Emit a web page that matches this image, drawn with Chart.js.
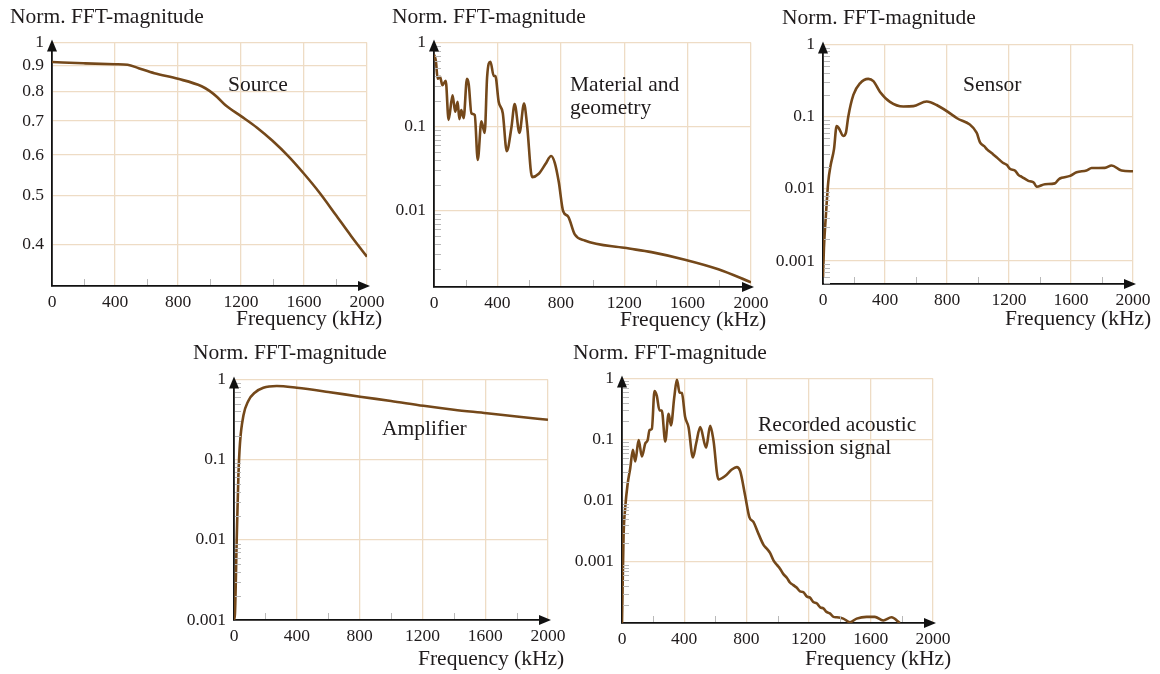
<!DOCTYPE html>
<html>
<head>
<meta charset="utf-8">
<script src="https://cdn.jsdelivr.net/npm/chart.js@4.4.1/dist/chart.umd.min.js"></script>
<style>
  html, body { margin: 0; padding: 0; background: #fff; }
  #page { position: relative; width: 1160px; height: 674px; overflow: hidden;
          font-family: 'Liberation Serif', 'Times New Roman', serif; color: #1f1b1c; }
  #page canvas { position: absolute; }
  .lbl { position: absolute; font-size: 21.5px; line-height: 1; white-space: nowrap; }
</style>
</head>
<body>
<div id="page"></div>
<script>
// ---- shared frequency axis (kHz) ----
const freqTicks = [0, 400, 800, 1200, 1600, 2000];
const freqMinorTicks = [200, 600, 1000, 1400, 1800];

// ---- Source ----
const sourceFreq = [0, 200, 400, 480, 550, 650, 800, 950, 1000, 1050, 1100, 1200, 1300, 1400, 1500, 1600, 1700, 1800, 1900, 2000];
const sourceMag  = [0.915, 0.91, 0.906, 0.904, 0.89, 0.87, 0.848, 0.82, 0.803, 0.78, 0.753, 0.716, 0.68, 0.64, 0.597, 0.551, 0.505, 0.458, 0.415, 0.378];
const sourceTicks = [1, 0.9, 0.8, 0.7, 0.6, 0.5, 0.4];

// ---- Material and geometry ----
const materialFreq = [0, 12, 23, 38, 53, 74, 92, 117, 134, 149, 160, 172, 187, 208, 219, 236, 257, 276, 299, 320, 335, 356, 377, 387, 408, 434, 459, 488, 509, 539, 568, 587, 619, 661, 703, 739, 762, 787, 815, 846, 888, 951, 1200, 1372, 1583, 1794, 2000];
const materialMag  = [0.72, 0.6, 0.37, 0.39, 0.31, 0.35, 0.12, 0.235, 0.15, 0.197, 0.122, 0.157, 0.126, 0.37, 0.32, 0.144, 0.137, 0.04, 0.115, 0.084, 0.386, 0.59, 0.40, 0.40, 0.197, 0.144, 0.051, 0.096, 0.185, 0.084, 0.188, 0.105, 0.025, 0.0274, 0.0357, 0.0446, 0.037, 0.022, 0.0098, 0.0085, 0.0052, 0.0044, 0.0036, 0.0032, 0.0026, 0.002, 0.0014];
const materialTicks = [1, 0.1, 0.01];

// ---- Sensor ----
const sensorFreq = [0, 6, 19, 34, 49, 71, 88, 101, 131, 148, 163, 196, 239, 292, 325, 368, 432, 518, 583, 669, 733, 862, 991, 1013, 1040, 1060, 1090, 1120, 1160, 1185, 1206, 1240, 1262, 1282, 1325, 1345, 1360, 1378, 1432, 1496, 1520, 1540, 1594, 1636, 1700, 1733, 1819, 1862, 1926, 2000];
const sensorMag  = [0.0006, 0.0015, 0.0044, 0.0125, 0.021, 0.0355, 0.074, 0.07, 0.054, 0.06, 0.10, 0.2, 0.29, 0.334, 0.31, 0.22, 0.16, 0.138, 0.14, 0.162, 0.145, 0.096, 0.06, 0.044, 0.039, 0.035, 0.031, 0.0274, 0.023, 0.0215, 0.019, 0.0178, 0.0155, 0.0147, 0.0129, 0.0126, 0.0122, 0.0107, 0.0116, 0.0119, 0.0135, 0.0142, 0.0151, 0.017, 0.018, 0.0194, 0.0195, 0.0211, 0.0179, 0.0175];
const sensorTicks = [1, 0.1, 0.01, 0.001];

// ---- Amplifier ----
const amplifierFreq = [0, 6, 17, 28, 38, 60, 91, 134, 187, 272, 400, 600, 803, 1000, 1207, 1400, 1611, 1800, 2000];
const amplifierMag  = [0.001, 0.0012, 0.0095, 0.063, 0.16, 0.355, 0.54, 0.69, 0.79, 0.83, 0.79, 0.70, 0.61, 0.54, 0.47, 0.42, 0.38, 0.345, 0.315];
const amplifierTicks = [1, 0.1, 0.01, 0.001];

// ---- Recorded acoustic emission signal ----
const recordedFreq = [0, 10, 21, 36, 53, 70, 85, 107, 128, 150, 165, 177, 192, 209, 224, 241, 256, 278, 300, 315, 336, 353, 370, 385, 406, 428, 456, 477, 503, 541, 567, 588, 620, 663, 706, 738, 760, 792, 819, 845, 877, 910, 935, 952, 975, 995, 1015, 1038, 1060, 1080, 1100, 1123, 1145, 1166, 1190, 1209, 1230, 1252, 1275, 1295, 1315, 1337, 1360, 1380, 1423, 1466, 1509, 1573, 1626, 1680, 1733, 1787];
const recordedMag  = [0.0001, 0.0026, 0.0079, 0.0186, 0.034, 0.068, 0.044, 0.098, 0.053, 0.087, 0.098, 0.143, 0.15, 0.625, 0.52, 0.30, 0.30, 0.093, 0.264, 0.171, 0.49, 0.96, 0.59, 0.58, 0.234, 0.16, 0.051, 0.087, 0.16, 0.074, 0.168, 0.098, 0.0224, 0.0254, 0.0324, 0.0355, 0.0305, 0.0121, 0.0054, 0.0045, 0.0029, 0.0019, 0.0016, 0.0014, 0.00105, 0.0009, 0.00078, 0.00063, 0.00055, 0.00046, 0.00042, 0.00038, 0.00033, 0.00032, 0.00027, 0.00026, 0.00022, 0.00021, 0.00018, 0.000174, 0.000152, 0.000144, 0.000126, 0.000124, 0.000118, 0.000103, 0.000118, 0.000126, 0.000126, 0.00011, 0.000124, 0.0001];
const recordedTicks = [1, 0.1, 0.01, 0.001];

// ---- styling ----
const LINE_COLOR = '#74481a';
const GRID_COLOR = '#eedcc5';
const MINOR_COLOR = '#b9b9b9';
const TEXT_COLOR = '#1f1b1c';
const SERIF = "'Liberation Serif', 'Times New Roman', serif";

// panel layout: plot rectangle on the page plus y range and text placement
const panels = [
  { freq: sourceFreq, mag: sourceMag, yTicks: sourceTicks, yMin: 0.331, yMax: 1, minorY: false,
    rect: { l: 52, t: 38, r: 367, b: 286 },
    title: { x: 10, base: 24 }, xTitle: { x: 236, base: 326 },
    notes: [{ text: 'Source', x: 228, base: 92 }] },
  { freq: materialFreq, mag: materialMag, yTicks: materialTicks, yMin: 0.00123, yMax: 1, minorY: true,
    rect: { l: 434, t: 38, r: 751, b: 287 },
    title: { x: 392, base: 24 }, xTitle: { x: 620, base: 327 },
    notes: [{ text: 'Material and', x: 570, base: 92 }, { text: 'geometry', x: 570, base: 115 }] },
  { freq: sensorFreq, mag: sensorMag, yTicks: sensorTicks, yMin: 0.00048, yMax: 1, minorY: true,
    rect: { l: 823, t: 40, r: 1133, b: 284 },
    title: { x: 782, base: 25 }, xTitle: { x: 1005, base: 326 },
    notes: [{ text: 'Sensor', x: 963, base: 92 }] },
  { freq: amplifierFreq, mag: amplifierMag, yTicks: amplifierTicks, yMin: 0.001, yMax: 1, minorY: true,
    rect: { l: 234, t: 375, r: 548, b: 620 },
    title: { x: 193, base: 360 }, xTitle: { x: 418, base: 666 },
    notes: [{ text: 'Amplifier', x: 382, base: 436 }] },
  { freq: recordedFreq, mag: recordedMag, yTicks: recordedTicks, yMin: 0.0001, yMax: 1, minorY: true,
    rect: { l: 622, t: 374, r: 933, b: 623 },
    title: { x: 573, base: 360 }, xTitle: { x: 805, base: 666 },
    notes: [{ text: 'Recorded acoustic', x: 758, base: 432 }, { text: 'emission signal', x: 758, base: 455 }] }
];

const page = document.getElementById('page');
const Y_AXIS_W = 60, X_AXIS_H = 34, PAD_T = 14, PAD_R = 26;
const FONT_PX = 21.5, BASELINE_OFFSET = 0.8375 * FONT_PX;

function addLabel(text, x, base) {
  const d = document.createElement('div');
  d.className = 'lbl';
  d.textContent = text;
  d.style.left = x + 'px';
  d.style.top = (base - BASELINE_OFFSET) + 'px';
  page.appendChild(d);
}

// axis arrows plus the small minor tick marks drawn inside the plot
const axisDecor = {
  id: 'axisDecor',
  afterDraw(chart, args, opts) {
    const { ctx, chartArea: a, scales } = chart;
    const xs = scales.x, ys = scales.y;
    ctx.save();
    ctx.strokeStyle = MINOR_COLOR;
    ctx.lineWidth = 1;
    freqMinorTicks.forEach(v => {
      const px = Math.round(xs.getPixelForValue(v)) + 0.5;
      ctx.beginPath(); ctx.moveTo(px, a.bottom - 1); ctx.lineTo(px, a.bottom - 7); ctx.stroke();
    });
    if (opts.minorY) {
      const lo = Math.floor(Math.log10(ys.min)), hi = Math.ceil(Math.log10(ys.max));
      for (let n = lo; n < hi; n++) {
        for (let k = 2; k <= 9; k++) {
          const v = k * Math.pow(10, n);
          if (v <= ys.min || v >= ys.max) continue;
          const py = Math.round(ys.getPixelForValue(v)) + 0.5;
          ctx.beginPath(); ctx.moveTo(a.left + 1, py); ctx.lineTo(a.left + 7, py); ctx.stroke();
        }
      }
    }
    ctx.fillStyle = '#111';
    ctx.beginPath();
    ctx.moveTo(a.left, a.top - 3);
    ctx.lineTo(a.left - 5, a.top + 9);
    ctx.lineTo(a.left + 5, a.top + 9);
    ctx.closePath(); ctx.fill();
    ctx.beginPath();
    ctx.moveTo(a.right + 3, a.bottom);
    ctx.lineTo(a.right - 9, a.bottom - 5);
    ctx.lineTo(a.right - 9, a.bottom + 5);
    ctx.closePath(); ctx.fill();
    ctx.restore();
  }
};

panels.forEach(p => {
  const w = (p.rect.r - p.rect.l) + Y_AXIS_W + PAD_R;
  const h = (p.rect.b - p.rect.t) + PAD_T + X_AXIS_H;
  const cv = document.createElement('canvas');
  cv.width = w; cv.height = h;
  cv.style.width = w + 'px'; cv.style.height = h + 'px';
  cv.style.left = (p.rect.l - Y_AXIS_W) + 'px';
  cv.style.top = (p.rect.t - PAD_T) + 'px';
  page.appendChild(cv);

  new Chart(cv, {
    type: 'line',
    data: {
      datasets: [{
        data: p.freq.map((f, i) => ({ x: f, y: p.mag[i] })),
        borderColor: LINE_COLOR,
        borderWidth: 2.6,
        pointRadius: 0,
        cubicInterpolationMode: 'monotone',
        fill: false
      }]
    },
    options: {
      responsive: false,
      animation: false,
      events: [],
      layout: { padding: { left: 0, top: PAD_T, right: PAD_R, bottom: 0 } },
      plugins: { legend: { display: false }, tooltip: { enabled: false }, axisDecor: { minorY: p.minorY } },
      scales: {
        x: {
          type: 'linear', min: 0, max: 2000,
          afterBuildTicks: s => { s.ticks = freqTicks.map(v => ({ value: v })); },
          afterFit: s => { s.height = X_AXIS_H; },
          grid: { color: GRID_COLOR, lineWidth: 1.3, drawTicks: false },
          border: { display: true, color: '#111', width: 1.8 },
          ticks: { color: TEXT_COLOR, font: { family: SERIF, size: 17.5 }, padding: 6,
                   maxRotation: 0, autoSkip: false, callback: v => String(v) }
        },
        y: {
          type: 'logarithmic', min: p.yMin, max: p.yMax,
          afterBuildTicks: s => { s.ticks = p.yTicks.map(v => ({ value: v })); },
          afterFit: s => { s.width = Y_AXIS_W; },
          grid: { color: GRID_COLOR, lineWidth: 1.3, drawTicks: false },
          border: { display: true, color: '#111', width: 1.8 },
          ticks: { color: TEXT_COLOR, font: { family: SERIF, size: 17.5 }, padding: 8,
                   autoSkip: false, callback: v => String(v) }
        }
      }
    },
    plugins: [axisDecor]
  });

  addLabel('Norm. FFT-magnitude', p.title.x, p.title.base);
  addLabel('Frequency (kHz)', p.xTitle.x, p.xTitle.base);
  p.notes.forEach(n => addLabel(n.text, n.x, n.base));
});
</script>
</body>
</html>
